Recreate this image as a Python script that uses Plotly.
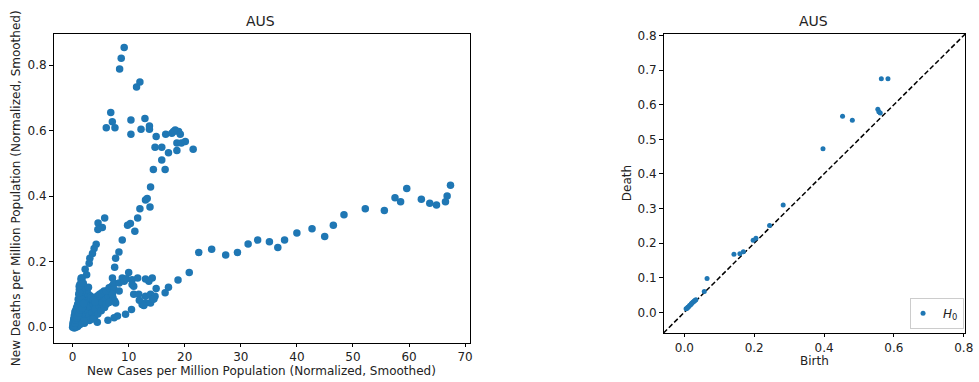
import plotly.graph_objects as go

# ---------------- data: left scatter (cases vs deaths) ----------------
cases = [
    # dense cluster near origin
    0.0, 0.1, 0.2, 0.3, 0.4, 0.5, 0.6, 0.7, 0.8, 0.9, 1.0, 1.1, 1.2, 1.3, 1.4, 1.5, 1.6, 1.7, 1.8, 1.9,
    2.0, 2.1, 2.2, 2.3, 2.5, 2.6, 2.7, 2.9, 3.0, 3.2, 3.3, 3.5, 3.7, 3.9, 4.0, 4.2, 4.4, 4.5, 4.7, 4.9,
    5.1, 5.3, 5.5, 5.7, 5.9, 6.1, 6.4, 6.6, 0.3, 0.5, 0.7, 0.9, 1.0, 1.1, 1.2, 1.3, 1.5, 1.7, 0.2, 0.6,
    1.0, 1.4, 0.4, 0.8, 1.6, 2.0, 2.4, 2.8, 3.2, 3.6, 4.0, 4.4, 4.8, 5.2, 5.6, 2.2, 2.6, 3.0, 3.6, 2.0,
    1.3, 0.15, 0.05, 0.25, 0.45, 0.35, 0.55, 0.65, 0.75, 0.85, 0.95, 1.05, 1.15, 1.25, 1.35, 1.45, 1.55,
    1.65, 1.75, 1.85, 1.95, 6.8, 7.2, 7.5, 6.0, 6.5, 6.0, 6.5, 7.0, 7.3,
    # steep left arm
    5.72, 4.54, 5.3, 4.5, 4.2, 3.83, 3.54, 3.07, 2.95, 2.24, 2.5, 1.53, 1.18, 2.83, 1.9, 1.2, 3.3, 3.7, 4.0,
    # middle arm going up
    7.5, 7.67, 8.26, 8.85, 9.8, 10.3, 11.1, 11.6, 12.0, 13.8, 13.0, 13.3, 13.9, 14.4, 16.5, 15.9,
    # upper cluster
    9.2, 8.67, 8.38, 12.0, 11.4, 6.8, 7.08, 6.0, 7.55, 10.4, 10.4, 12.9, 12.2, 13.7, 13.7, 14.9, 16.6,
    14.7, 15.9, 17.7, 18.3, 18.9, 19.2, 18.6, 19.4, 20.1, 17.1, 18.6, 21.5, 18.0,
    # group around 0.15
    7.1, 8.85, 10.0, 10.6, 11.6, 13.0, 14.2, 13.6, 7.4, 8.3, 10.6, 10.9, 7.4, 8.3, 7.1, 7.67, 10.9,
    11.8, 13.0, 13.9, 14.7, 12.4, 13.0, 13.9, 14.2, 9.2, 9.6, 11.9, 12.7,
    # lower branch
    10.5, 9.44, 8.0, 7.4, 6.3,
    # long right branch
    14.5, 14.9, 16.5, 17.1, 18.8, 20.8, 22.5, 24.8, 27.3, 29.4, 31.3, 33.0, 35.1, 36.6, 37.8, 40.0,
    42.7, 44.96, 46.5, 48.4, 52.2, 55.6, 57.5, 58.5, 59.6, 62.2, 63.7, 64.9, 66.5, 66.8, 67.4,
]

deaths = [
    0.000, 0.005, 0.012, -0.003, 0.020, 0.008, 0.030, 0.015, 0.040, 0.002, 0.025, 0.050, 0.010, 0.035,
    0.065, 0.020, 0.045, 0.075, 0.030, 0.055, 0.085, 0.012, 0.040, 0.065, 0.090, 0.025, 0.050, 0.075,
    0.035, 0.060, 0.085, 0.045, 0.070, 0.030, 0.055, 0.080, 0.015, 0.040, 0.065, 0.090, 0.050, 0.075,
    0.100, 0.060, 0.085, 0.105, 0.095, 0.110, 0.035, 0.050, 0.060, 0.070, 0.085, 0.100, 0.115, 0.130,
    0.145, 0.150, 0.025, 0.000, 0.005, 0.010, 0.045, 0.055, 0.090, 0.105, 0.110, 0.100, 0.095, 0.090,
    0.085, 0.095, 0.100, 0.105, 0.110, 0.120, 0.115, 0.020, 0.025, 0.018, 0.008, 0.018, 0.010, 0.005,
    0.012, 0.028, 0.022, 0.038, 0.028, 0.048, 0.035, 0.062, 0.042, 0.078, 0.052, 0.095, 0.068, 0.108,
    0.058, 0.120, 0.072, 0.085, 0.090, 0.080, 0.070, 0.075, 0.110, 0.120, 0.125, 0.130,
    0.333, 0.318, 0.304, 0.298, 0.253, 0.240, 0.225, 0.210, 0.195, 0.177, 0.160, 0.150, 0.125, 0.122,
    0.134, 0.105, 0.088, 0.082, 0.076,
    0.183, 0.210, 0.229, 0.266, 0.311, 0.316, 0.293, 0.333, 0.361, 0.367, 0.388, 0.393, 0.428, 0.481,
    0.481, 0.510,
    0.854, 0.821, 0.788, 0.748, 0.733, 0.655, 0.627, 0.609, 0.609, 0.632, 0.589, 0.637, 0.604, 0.614,
    0.604, 0.582, 0.589, 0.549, 0.549, 0.592, 0.602, 0.597, 0.589, 0.562, 0.562, 0.567, 0.532, 0.539,
    0.543, 0.597,
    0.150, 0.150, 0.167, 0.145, 0.150, 0.147, 0.150, 0.140, 0.135, 0.135, 0.130, 0.125, 0.115, 0.110,
    0.100, 0.074, 0.100, 0.100, 0.094, 0.100, 0.094, 0.069, 0.074, 0.074, 0.084, 0.140, 0.148, 0.082,
    0.066,
    0.054, 0.039, 0.034, 0.029, 0.021,
    0.086, 0.118, 0.105, 0.122, 0.144, 0.167, 0.228, 0.238, 0.220, 0.228, 0.254, 0.266, 0.261, 0.243,
    0.266, 0.287, 0.300, 0.277, 0.311, 0.343, 0.361, 0.356, 0.395, 0.383, 0.423, 0.390, 0.378, 0.373,
    0.383, 0.400, 0.433,
]

# ---------------- data: persistence diagram ----------------
birth = [0.005, 0.008, 0.010, 0.012, 0.015, 0.018, 0.020, 0.022, 0.025, 0.028, 0.030, 0.033,
         0.057, 0.065, 0.142, 0.159, 0.169, 0.197, 0.205, 0.244, 0.283, 0.397, 0.453, 0.481,
         0.554, 0.557, 0.561, 0.564, 0.583]
death = [0.010, 0.012, 0.015, 0.016, 0.020, 0.022, 0.025, 0.027, 0.030, 0.032, 0.034, 0.036,
         0.060, 0.098, 0.168, 0.169, 0.175, 0.208, 0.214, 0.251, 0.310, 0.473, 0.567, 0.555,
         0.587, 0.580, 0.576, 0.675, 0.675]

diag_range = [-0.0596, 0.8046]

left_xticks = [0, 10, 20, 30, 40, 50, 60, 70]
left_yticks = [0.0, 0.2, 0.4, 0.6, 0.8]
right_xticks = [0.0, 0.2, 0.4, 0.6, 0.8]
right_yticks = [0.0, 0.1, 0.2, 0.3, 0.4, 0.5, 0.6, 0.7, 0.8]

BLUE = "#1f77b4"
FONT = "DejaVu Sans"
W, H = 979, 382
FS = 12

fig = go.Figure()

fig.add_trace(go.Scatter(
    x=cases, y=deaths, mode="markers", xaxis="x", yaxis="y",
    marker=dict(color=BLUE, size=7.5, line=dict(width=0)), showlegend=False,
))

fig.add_trace(go.Scatter(
    x=diag_range, y=diag_range, mode="lines", xaxis="x2", yaxis="y2",
    line=dict(color="black", width=1.5, dash="5px,2.5px"), showlegend=False,
))

fig.add_trace(go.Scatter(
    x=birth, y=death, mode="markers", xaxis="x2", yaxis="y2",
    marker=dict(color=BLUE, size=5, line=dict(width=0)),
    name="<i>H</i><sub>0</sub>", showlegend=True,
))

axis_common = dict(
    showline=True, linecolor="black", linewidth=1, mirror=True,
    ticks="outside", ticklen=3.5, tickcolor="black", tickwidth=1,
    showgrid=False, zeroline=False,
    tickfont=dict(family=FONT, size=FS, color="#222222"),
)

fig.update_layout(
    width=W, height=H,
    margin=dict(l=0, r=0, t=0, b=0),
    paper_bgcolor="white", plot_bgcolor="white",
    font=dict(family=FONT, size=FS, color="#222222"),
    xaxis=dict(domain=[54 / W, 474 / W], range=[-3.4, 70.9], tickvals=left_xticks,
               anchor="y", **axis_common),
    yaxis=dict(domain=[1 - 342 / H, 1 - 29 / H], range=[-0.047, 0.896], tickvals=left_yticks,
               tickformat=".1f", anchor="x", **axis_common),
    xaxis2=dict(domain=[669 / W, 973.3 / W], range=diag_range, tickvals=right_xticks,
                tickformat=".1f", anchor="y2", **axis_common),
    yaxis2=dict(domain=[1 - 332.3 / H, 1 - 29.3 / H], range=diag_range, tickvals=right_yticks,
                tickformat=".1f", anchor="x2", **axis_common),
    legend=dict(x=972 / W, y=1 - 328 / H, xanchor="right", yanchor="bottom",
                bordercolor="#cccccc", borderwidth=1, bgcolor="white",
                font=dict(family=FONT, size=FS), itemwidth=30, tracegroupgap=0,
                indentation=-8),
    showlegend=True,
)

annotations = [
    dict(text="AUS", x=263 / W, y=1 - 16 / H, xref="paper", yref="paper",
         showarrow=False, font=dict(family=FONT, size=14), xanchor="center", yanchor="middle"),
    dict(text="AUS", x=820.7 / W, y=1 - 16 / H, xref="paper", yref="paper",
         showarrow=False, font=dict(family=FONT, size=14), xanchor="center", yanchor="middle"),
    dict(text="New Cases per Million Population (Normalized, Smoothed)", x=264 / W, y=1 - 371 / H,
         xref="paper", yref="paper", showarrow=False, font=dict(family=FONT, size=FS),
         xanchor="center", yanchor="middle"),
    dict(text="New Deaths per Million Population (Normalized, Smoothed)", x=15.7 / W, y=1 - 186 / H,
         xref="paper", yref="paper", showarrow=False, font=dict(family=FONT, size=FS),
         xanchor="center", yanchor="middle", textangle=-90),
    dict(text="Birth", x=821 / W, y=1 - 361 / H, xref="paper", yref="paper", showarrow=False,
         font=dict(family=FONT, size=FS), xanchor="center", yanchor="middle"),
    dict(text="Death", x=631.7 / W, y=1 - 181 / H, xref="paper", yref="paper", showarrow=False,
         font=dict(family=FONT, size=FS), xanchor="center", yanchor="middle", textangle=-90),
]
fig.update_layout(annotations=annotations)

fig.write_html("out.html")
